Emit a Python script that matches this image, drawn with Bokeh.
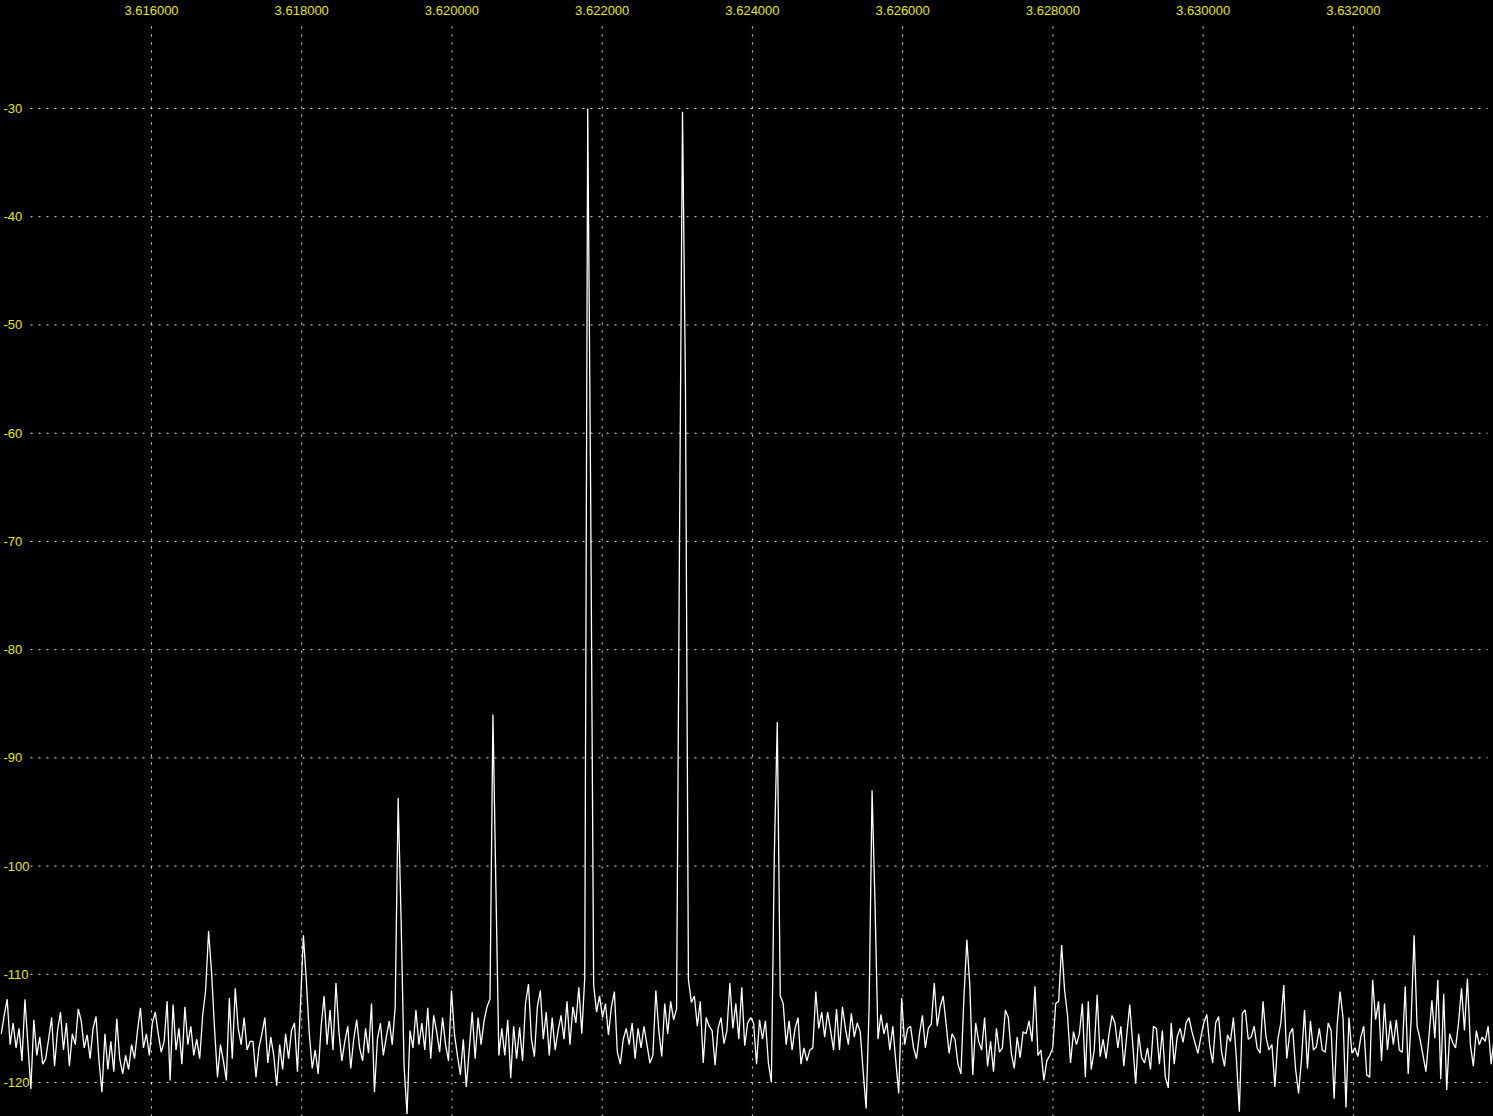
from bokeh.plotting import figure
from bokeh.models import Range1d
from bokeh.core.properties import value
from bokeh.embed import file_html
from bokeh.resources import INLINE

# ---------------- data ----------------
# Spectrum bins (MHz): first bin frequency and bin spacing
freq_start = 3.6140
freq_step = 0.00003943

# Level of each bin (dB)
level_db = [
    -115.5, -113.8, -112.3, -116.5, -114.5, -116.8, -115.0, -118.0, -112.3, -116.5,
    -120.6, -114.2, -117.5, -115.8, -118.3, -117.8, -116.0, -114.0, -118.5, -115.2,
    -113.5, -117.0, -114.5, -118.5, -115.5, -116.5, -113.2, -114.3, -116.8, -115.6,
    -117.8, -115.0, -113.9, -118.0, -120.9, -115.5, -118.8, -116.2, -119.0, -114.1,
    -117.8, -119.2, -117.5, -118.8, -116.5, -117.8, -115.2, -113.1, -116.8, -115.5,
    -117.5, -114.5, -113.5, -115.5, -117.2, -116.2, -112.5, -119.8, -112.8, -117.0,
    -115.0, -118.3, -113.0, -116.5, -114.8, -117.5, -116.0, -117.8, -113.8, -111.5,
    -106.0, -109.8, -115.0, -119.5, -116.5, -118.0, -119.8, -112.2, -117.8, -111.3,
    -115.0, -116.5, -114.0, -117.0, -116.2, -116.2, -119.5, -116.8, -115.5, -114.0,
    -118.2, -115.8, -117.5, -120.3, -116.5, -118.8, -115.5, -117.8, -115.2, -114.5,
    -119.0, -113.0, -106.4, -110.6, -115.5, -118.7, -117.0, -119.2, -114.8, -112.0,
    -116.5, -113.3, -117.0, -110.8, -115.3, -118.0, -116.2, -114.8, -118.7, -116.0,
    -114.2, -116.8, -118.0, -115.0, -117.3, -112.7, -120.9, -116.0, -114.5, -117.5,
    -115.8, -114.3, -116.5, -113.0, -93.7, -105.0, -118.5, -122.9, -115.2, -116.8,
    -113.3, -116.5, -114.5, -117.0, -113.1, -117.8, -113.8, -115.3, -117.2, -114.0,
    -116.5, -118.0, -111.5, -115.5, -117.5, -119.3, -116.0, -120.4, -117.0, -113.5,
    -117.8, -114.0, -116.5, -114.3, -113.0, -112.3, -86.0, -102.0, -117.5, -115.0,
    -117.5, -114.2, -119.6, -114.8, -117.8, -114.9, -118.0, -112.7, -110.9, -116.0,
    -117.6, -113.0, -111.5, -116.0, -113.5, -117.5, -114.0, -117.0, -115.2, -113.8,
    -116.0, -112.5, -116.5, -113.0, -114.5, -111.2, -115.5, -110.3, -30.0, -66.0,
    -111.0, -113.5, -112.0, -114.0, -112.7, -115.6, -113.0, -111.6, -117.2, -118.3,
    -116.0, -115.0, -116.5, -114.5, -117.8, -115.0, -116.8, -114.8, -116.5, -118.2,
    -117.5, -111.5, -115.2, -117.6, -112.7, -115.5, -112.5, -114.2, -113.2, -69.5,
    -30.3, -55.6, -110.5, -112.6, -112.0, -114.8, -112.5, -118.2, -114.0, -114.8,
    -115.2, -118.4, -115.0, -114.0, -116.4, -115.2, -110.8, -115.0, -112.7, -116.0,
    -111.2, -116.6, -114.5, -114.0, -114.5, -118.3, -114.2, -116.0, -114.3, -118.2,
    -120.0, -99.0, -86.7, -112.0, -112.7, -116.5, -114.3, -117.0, -115.0, -114.0,
    -118.3, -116.8, -118.0, -117.0, -116.8, -111.6, -115.0, -113.5, -115.8, -113.5,
    -115.2, -117.0, -113.2, -117.0, -113.0, -115.0, -116.5, -113.6, -115.8, -114.5,
    -115.3, -119.0, -122.4, -113.1, -93.0, -103.5, -116.0, -113.7, -115.5, -114.5,
    -117.0, -114.8, -118.0, -121.0, -112.2, -116.5, -115.0, -114.8, -116.8, -117.8,
    -115.5, -113.8, -116.8, -115.0, -114.6, -110.8, -114.8, -113.0, -112.0, -114.6,
    -117.3, -115.5, -116.0, -118.3, -119.2, -112.2, -106.8, -111.0, -119.3, -114.5,
    -116.2, -117.0, -114.0, -118.5, -116.2, -119.0, -115.0, -117.2, -116.8, -113.3,
    -114.0, -117.3, -118.7, -115.8, -117.7, -115.3, -115.5, -114.3, -116.2, -111.1,
    -117.5, -117.0, -119.8, -118.0, -117.5, -116.8, -112.7, -112.5, -107.3, -111.5,
    -113.8, -118.2, -115.3, -116.5, -115.5, -112.7, -119.5, -112.5, -118.8, -117.0,
    -111.9, -117.6, -116.0, -117.8, -115.5, -113.8, -114.5, -116.8, -114.8, -118.5,
    -115.6, -112.8, -116.4, -120.1, -115.5, -117.7, -118.2, -116.8, -118.8, -114.8,
    -115.0, -118.3, -115.2, -119.5, -120.5, -114.5, -118.3, -115.8, -115.0, -116.3,
    -114.5, -114.0, -115.3, -116.3, -117.3, -115.8, -114.5, -113.7, -116.6, -118.2,
    -114.5, -113.9, -117.2, -118.5, -115.6, -116.2, -114.0, -117.8, -122.7, -113.6,
    -113.3, -116.0, -115.8, -114.8, -116.8, -117.3, -112.5, -115.8, -117.0, -116.5,
    -120.4, -116.0, -114.5, -111.0, -117.8, -115.5, -115.0, -118.8, -121.0, -117.8,
    -113.3, -118.7, -114.3, -117.0, -116.7, -115.0, -117.0, -117.2, -114.5, -115.2,
    -121.5, -114.8, -111.6, -114.0, -122.3, -114.0, -117.3, -116.8, -117.6, -115.8,
    -114.8, -119.3, -119.5, -110.5, -114.2, -112.5, -118.0, -112.7, -117.0, -114.3,
    -116.5, -114.2, -117.0, -117.2, -111.1, -119.2, -114.2, -106.4, -114.8, -116.0,
    -117.5, -119.0, -115.8, -112.4, -115.9, -110.5, -119.7, -111.8, -120.7, -115.5,
    -116.3, -116.8, -114.5, -111.3, -115.2, -110.4, -116.5, -118.5, -115.2, -116.5,
    -115.8, -116.2, -114.8, -118.3, -116.0,
]

# tick values and labels
x_ticks = [3.616, 3.618, 3.620, 3.622, 3.624, 3.626, 3.628, 3.630, 3.632]
x_tick_labels = ["3.616000", "3.618000", "3.620000", "3.622000", "3.624000",
                 "3.626000", "3.628000", "3.630000", "3.632000"]
y_ticks = [-30, -40, -50, -60, -70, -80, -90, -100, -110, -120]
y_tick_labels = ["-30", "-40", "-50", "-60", "-70", "-80", "-90", "-100", "-110", "-120"]

freqs = [freq_start + i * freq_step for i in range(len(level_db))]

# ---------------- layout / style ----------------
W, H = 1493, 1116
X_LEFT, X_RIGHT = 3.613990, 3.633865
Y_BOTTOM, Y_TOP = -123.14, -20.02
PX_X = W / (X_RIGHT - X_LEFT)      # px per MHz
PX_Y = H / (Y_TOP - Y_BOTTOM)      # px per dB

LABEL_COLOR = "#e8e800"
GRID_COLOR = "#e6e6e6"
FONT = value("Liberation Sans")

p = figure(width=W, height=H, output_backend="svg", toolbar_location=None,
           x_range=Range1d(X_LEFT, X_RIGHT), y_range=Range1d(Y_BOTTOM, Y_TOP),
           min_border=0, background_fill_color="black", border_fill_color="black",
           outline_line_color=None)
p.axis.visible = False
p.grid.visible = False

# grid (dotted), leaving room for labels like the original
gx0 = X_LEFT + 30 / PX_X
gx1 = X_LEFT + 1487 / PX_X
p.segment(x0=[gx0] * len(y_ticks), x1=[gx1] * len(y_ticks), y0=y_ticks, y1=y_ticks,
          line_color=GRID_COLOR, line_width=1, line_dash="2 6")
gy1 = Y_TOP - 25 / PX_Y
p.segment(x0=x_ticks, x1=x_ticks, y0=[Y_BOTTOM] * len(x_ticks), y1=[gy1] * len(x_ticks),
          line_color=GRID_COLOR, line_width=1, line_dash="2 6")

# spectrum trace
p.line(freqs, level_db, line_color="white", line_width=1.3)

# tick labels
p.text(x=x_ticks, y=[Y_TOP - 10 / PX_Y] * len(x_ticks), text=x_tick_labels,
       text_font=FONT, text_font_size="13px", text_color=LABEL_COLOR,
       text_align="center", text_baseline="middle")
p.text(x=[X_LEFT + 3 / PX_X] * len(y_ticks), y=y_ticks, text=y_tick_labels,
       text_font=FONT, text_font_size="13px", text_color=LABEL_COLOR,
       text_align="left", text_baseline="middle")

html = file_html(p, INLINE)
html = html.replace("</head>",
                    "<style>html,body{margin:0 !important;padding:0 !important;"
                    "background:#000 !important;overflow:hidden;}</style></head>", 1)
open("out.html", "w").write(html)
